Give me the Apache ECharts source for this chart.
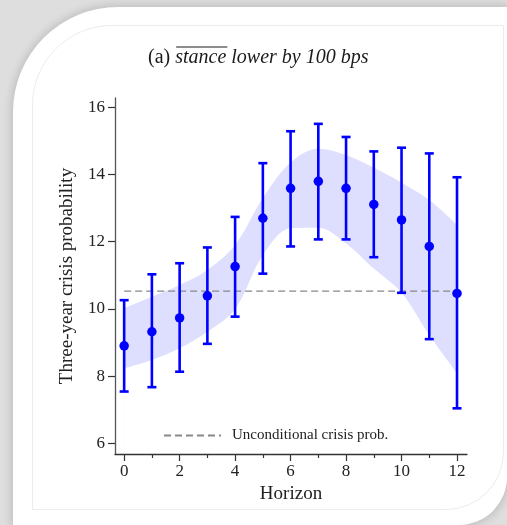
<!DOCTYPE html>
<html>
<head>
<meta charset="utf-8">
<script src="https://cdn.jsdelivr.net/npm/echarts@6/dist/echarts.min.js"></script>
<style>
  html, body { margin: 0; padding: 0; width: 507px; height: 525px; overflow: hidden; background: #dedede; }
  .card { position: absolute; left: 13px; top: 7px; width: 494px; height: 518px; background: #fff;
          border-top-left-radius: 105px; border-bottom-right-radius: 48px;
          box-shadow: 0 0 8px 2px rgba(0,0,0,0.14); }
  .inner { position: absolute; left: 32px; top: 25px; width: 470px; height: 483px;
           border: 1px solid #ececec; border-top-left-radius: 80px; border-bottom-right-radius: 58px; }
  #main { position: absolute; left: 0; top: 0; width: 507px; height: 525px; }
</style>
</head>
<body>
<div class="card"></div>
<div class="inner"></div>
<div id="main"></div>
<script>
// horizons (x) and estimates
const horizon = [0, 1, 2, 3, 4, 5, 6, 7, 8, 9, 10, 11, 12];
const pointEst = [8.90, 9.32, 9.73, 10.39, 11.26, 12.70, 13.59, 13.80, 13.59, 13.11, 12.65, 11.86, 10.46];
const ciUpper = [10.26, 11.03, 11.36, 11.83, 12.74, 14.34, 15.29, 15.51, 15.12, 14.69, 14.80, 14.63, 13.92];
const ciLower = [7.54, 7.67, 8.13, 8.96, 9.77, 11.05, 11.86, 12.07, 12.07, 11.54, 10.48, 9.10, 7.04];
const bandUpper = [10.02, 10.36, 10.71, 11.16, 11.90, 13.30, 14.36, 14.77, 14.58, 14.20, 13.76, 13.24, 12.50];
const bandLower = [8.23, 8.48, 8.83, 9.32, 10.00, 11.60, 12.40, 12.42, 11.95, 11.20, 10.48, 9.22, 8.08];
const uncondProb = 10.53;
const yTicks = [6, 8, 10, 12, 14, 16];
const xTicks = [0, 2, 4, 6, 8, 10, 12];
const xMinorTicks = [1, 3, 5, 7, 9, 11];

const blue = '#0000ff';
const txt = '#222';
const serif = '"Liberation Serif", "DejaVu Serif", serif';
const titleSize = 20;
const titleLeft = 148;

let chart = echarts.init(document.getElementById('main'));

let option = {
  animation: false,
  backgroundColor: 'transparent',
  textStyle: { fontFamily: serif },
  title: {
    left: titleLeft,
    top: 48,
    padding: 0,
    text: '{n|(a) }{i|stance lower by 100 bps}',
    textStyle: {
      fontWeight: 'normal',
      rich: {
        n: { fontFamily: serif, fontSize: titleSize, fontWeight: 'normal', color: '#1a1a1a' },
        i: { fontFamily: serif, fontSize: titleSize, fontWeight: 'normal', fontStyle: 'italic', color: '#1a1a1a' }
      }
    }
  },
  legend: {
    left: 163,
    top: 428,
    padding: 0,
    itemWidth: 57,
    itemHeight: 10,
    data: [{ name: 'Unconditional crisis prob.', itemStyle: { color: 'rgba(0,0,0,0)', borderWidth: 0 } }],
    textStyle: { fontFamily: serif, fontSize: 15, color: txt, padding: [0, 0, 0, 6] }
  },
  grid: { left: 115, right: 40, top: 98, bottom: 71 },
  xAxis: [
    {
      type: 'value',
      z: 10,
      min: -0.33,
      max: 12.36,
      name: 'Horizon',
      nameLocation: 'middle',
      nameGap: 28,
      nameTextStyle: { fontFamily: serif, fontSize: 19, color: txt },
      axisLine: { onZero: false, lineStyle: { color: '#333', width: 1.3 } },
      axisTick: { customValues: xTicks, length: 7, lineStyle: { color: '#333', width: 1.2 } },
      axisLabel: { customValues: xTicks, margin: 9, fontFamily: serif, fontSize: 17, color: txt },
      splitLine: { show: false }
    },
    {
      type: 'value',
      position: 'bottom',
      z: 10,
      min: -0.33,
      max: 12.36,
      axisLine: { show: false },
      axisTick: { customValues: xMinorTicks, length: 4, lineStyle: { color: '#333', width: 1.2 } },
      axisLabel: { show: false },
      splitLine: { show: false }
    }
  ],
  yAxis: {
    type: 'value',
    z: 10,
    min: 5.68,
    max: 16.28,
    name: 'Three-year crisis probability',
    nameLocation: 'middle',
    nameGap: 38,
    nameTextStyle: { fontFamily: serif, fontSize: 19, color: txt },
    axisLine: { show: true, onZero: false, lineStyle: { color: '#555', width: 1.3 } },
    axisTick: { show: true, customValues: yTicks, length: 7, lineStyle: { color: '#333', width: 1.2 } },
    axisLabel: { customValues: yTicks, margin: 10, fontFamily: serif, fontSize: 17, color: txt },
    splitLine: { show: false }
  },
  series: [
    {
      // band: fill under the upper edge, then mask below the lower edge with white
      name: 'bandHigh',
      type: 'line',
      smooth: 0.35,
      symbol: 'none',
      lineStyle: { width: 0, opacity: 0 },
      areaStyle: { color: 'rgb(222,222,255)', opacity: 1, origin: 'start' },
      data: horizon.map((h, i) => [h, bandUpper[i]]),
      z: 1
    },
    {
      name: 'bandLow',
      type: 'line',
      smooth: 0.35,
      symbol: 'none',
      lineStyle: { width: 0, opacity: 0 },
      areaStyle: { color: '#ffffff', opacity: 1, origin: 'start' },
      data: horizon.map((h, i) => [h, bandLower[i]]),
      z: 1
    },
    {
      name: 'Unconditional crisis prob.',
      type: 'line',
      symbol: 'none',
      lineStyle: { color: '#888', width: 1.3, type: [7, 4] },
      itemStyle: { color: '#888' },
      data: [[horizon[0], uncondProb], [horizon[horizon.length - 1], uncondProb]],
      z: 2
    },
    {
      name: 'ci',
      type: 'custom',
      data: horizon.map((h, i) => [h, ciLower[i], ciUpper[i]]),
      encode: { x: 0, y: [1, 2] },
      renderItem: function (params, api) {
        let x = api.value(0);
        let top = api.coord([x, api.value(2)]);
        let bot = api.coord([x, api.value(1)]);
        let w = 4.5;
        let st = { stroke: blue, lineWidth: 2.6 };
        return {
          type: 'group',
          children: [
            { type: 'line', shape: { x1: top[0], y1: top[1], x2: bot[0], y2: bot[1] }, style: st },
            { type: 'line', shape: { x1: top[0] - w, y1: top[1], x2: top[0] + w, y2: top[1] }, style: st },
            { type: 'line', shape: { x1: bot[0] - w, y1: bot[1], x2: bot[0] + w, y2: bot[1] }, style: st }
          ]
        };
      },
      z: 3
    },
    {
      name: 'point',
      type: 'scatter',
      symbolSize: 9.5,
      itemStyle: { color: blue, opacity: 1 },
      data: horizon.map((h, i) => [h, pointEst[i]]),
      z: 4
    }
  ]
};
chart.setOption(option);

// overline above "stance" in the title
let ctx = document.createElement('canvas').getContext('2d');
ctx.font = titleSize + 'px "Liberation Serif"';
let preW = ctx.measureText('(a) ').width;
ctx.font = 'italic ' + titleSize + 'px "Liberation Serif"';
let stW = ctx.measureText('stance').width;
chart.setOption({
  graphic: [{
    type: 'line',
    z: 20,
    shape: { x1: titleLeft + preW + 1, y1: 47, x2: titleLeft + preW + stW + 1, y2: 47 },
    style: { stroke: '#1a1a1a', lineWidth: 1 }
  }]
});
</script>
</body>
</html>
